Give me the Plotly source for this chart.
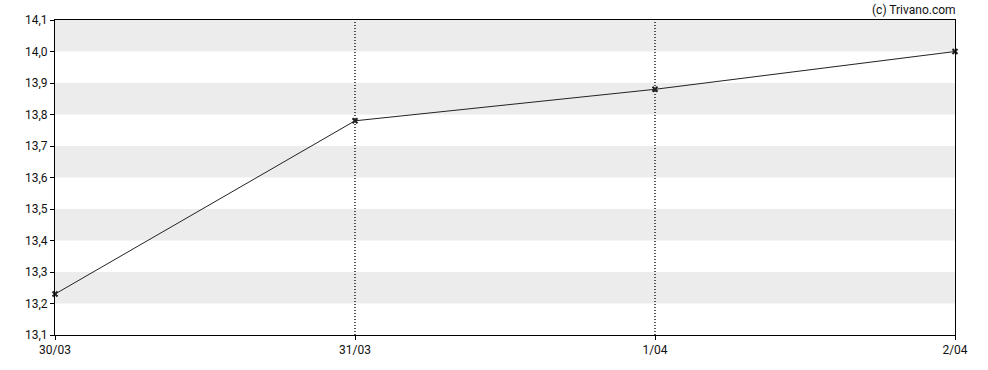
import plotly.graph_objects as go

dates = ["30/03", "31/03", "1/04", "2/04"]
prices = [13.23, 13.78, 13.88, 14.00]
y_ticks = [13.1, 13.2, 13.3, 13.4, 13.5, 13.6, 13.7, 13.8, 13.9, 14.0, 14.1]
y_tick_labels = [f"{v:.1f}".replace(".", ",") for v in y_ticks]
band_starts = [13.2, 13.4, 13.6, 13.8, 14.0]

fig = go.Figure()
fig.add_trace(go.Scatter(
    x=list(range(len(dates))), y=prices, mode="lines+markers",
    line=dict(color="#222222", width=1),
    marker=dict(symbol="x-thin", size=5, color="#222222",
                line=dict(width=2, color="#222222")),
    cliponaxis=False,
    hoverinfo="skip",
))

shapes = []
for b in band_starts:
    shapes.append(dict(type="rect", xref="paper", yref="y", x0=0, x1=1,
                       y0=b, y1=b + 0.1, fillcolor="#ececec", line_width=0,
                       layer="below"))
for i in range(1, len(dates) - 1):
    shapes.append(dict(type="line", xref="x", yref="paper", x0=i, x1=i,
                       y0=0, y1=1, line=dict(color="#000000", width=1.3, dash="1px,2px"),
                       layer="below"))

fig.update_layout(
    width=988, height=370,
    margin=dict(l=55, r=33, t=20, b=35),
    paper_bgcolor="white", plot_bgcolor="white",
    showlegend=False,
    shapes=shapes,
    font=dict(family="Roboto", size=12, color="#111111"),
    xaxis=dict(range=[0, len(dates) - 1], tickmode="array",
               tickvals=list(range(len(dates))), ticktext=dates,
               showgrid=False, zeroline=False, showline=True, mirror=True,
               linecolor="#000000", linewidth=1, ticks="outside", ticklen=4,
               tickcolor="#000000"),
    yaxis=dict(range=[13.1, 14.1], tickmode="array", tickvals=y_ticks,
               ticktext=y_tick_labels, showgrid=False, zeroline=False,
               showline=True, mirror=True, linecolor="#000000", linewidth=1,
               ticks="outside", ticklen=4, tickcolor="#000000"),
    annotations=[dict(text="(c) Trivano.com", xref="paper", yref="paper",
                      x=1, y=1, xanchor="right", yanchor="bottom",
                      showarrow=False, yshift=1, xshift=3,
                      font=dict(family="Roboto", size=12, color="#111111"))],
)

fig.write_html("out.html")
